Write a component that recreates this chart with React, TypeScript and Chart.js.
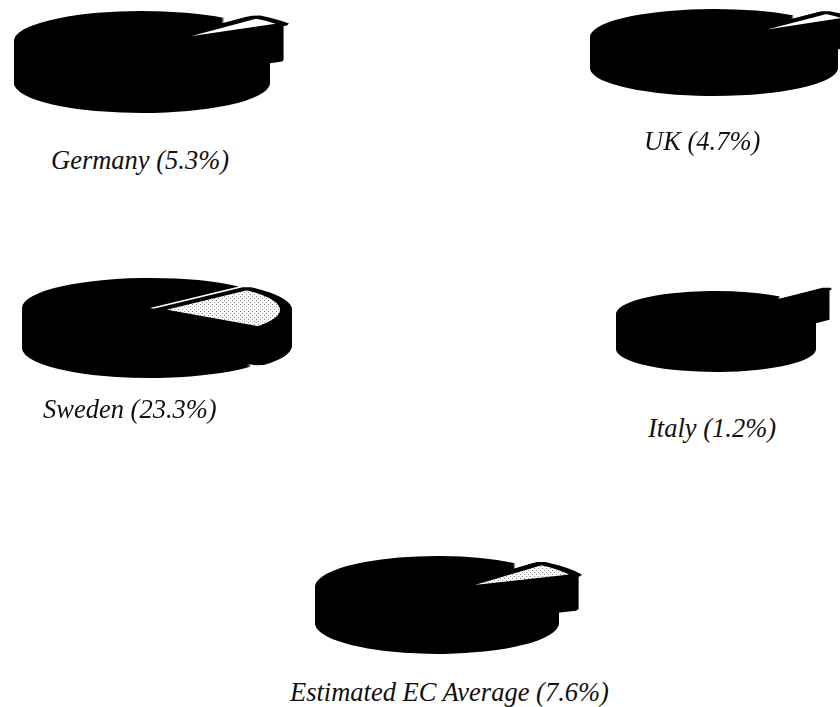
import React, { useEffect, useRef } from "react";
import { Chart, registerables } from "chart.js";

Chart.register(...registerables);

const regions = ["Germany", "UK", "Sweden", "Italy", "Estimated EC Average"];
const sharePercents = [5.3, 4.7, 23.3, 1.2, 7.6];
const captions = [
  "Germany (5.3%)",
  "UK (4.7%)",
  "Sweden (23.3%)",
  "Italy (1.2%)",
  "Estimated EC Average (7.6%)",
];

// Where each squashed pie sits on the page and how it is extruded.
const pieFrames = [
  { cx: 142, cy: 41, rx: 128, ry: 30, depth: 42, rotation: 40, offset: 100, shiftX: 0, shiftY: 5, sliceDepth: 36, wallDx: -5, frontWall: false, stipple: false },
  { cx: 714, cy: 37, rx: 124, ry: 28, depth: 31, rotation: 40, offset: 100, shiftX: 0, shiftY: 3, sliceDepth: 28, wallDx: -3, frontWall: false, stipple: false },
  { cx: 150, cy: 308, rx: 128, ry: 30, depth: 40, rotation: 44, offset: 48, shiftX: -4, shiftY: 2, sliceDepth: 36, wallDx: 0, frontWall: true, stipple: true },
  { cx: 716, cy: 314, rx: 100, ry: 23, depth: 35, rotation: 40, offset: 136, shiftX: 0, shiftY: 3, sliceDepth: 30, wallDx: -2, frontWall: false, stipple: false },
  { cx: 437, cy: 587, rx: 122, ry: 31, depth: 36, rotation: 40, offset: 85, shiftX: 0, shiftY: 5, sliceDepth: 34, wallDx: -3, frontWall: false, stipple: true },
];
const captionFrames = [
  { left: 51, top: 145 },
  { left: 644, top: 126 },
  { left: 43, top: 394 },
  { left: 648, top: 413 },
  { left: 290, top: 677 },
];

const SLICE_INDEX = 0;
const CANVAS_W = 380;
const CANVAS_H = 180;

function stipplePattern(): CanvasPattern | string {
  const cell = document.createElement("canvas");
  cell.width = 4;
  cell.height = 16;
  const g = cell.getContext("2d");
  if (!g) return "#ffffff";
  g.fillStyle = "#ffffff";
  g.fillRect(0, 0, 4, 16);
  g.fillStyle = "#808080";
  g.fillRect(0, 0, 1, 4);
  g.fillRect(2, 8, 1, 4);
  return g.createPattern(cell, "repeat") ?? "#ffffff";
}

type Frame = (typeof pieFrames)[number];

// Draws the arcs flattened into an ellipse, with black layers underneath for the wall.
function extrudedPiePlugin(frame: Frame) {
  const k = frame.ry / frame.rx;
  return {
    id: "extrudedPie",
    beforeDatasetsDraw(chart: any) {
      const ctx: CanvasRenderingContext2D = chart.ctx;
      const arcs: any[] = chart.getDatasetMeta(0).data;
      const slice = arcs[SLICE_INDEX];
      const rest = arcs[1 - SLICE_INDEX];
      const { x, y } = rest;
      const flatten = (dx: number, dy: number) => {
        ctx.translate(x + dx, y + dy);
        ctx.scale(1, k);
        ctx.translate(-x, -y);
      };
      const blackDraw = (arc: any) => {
        const saved = arc.options;
        arc.options = { ...saved, backgroundColor: "#000000", borderColor: "#000000" };
        arc.draw(ctx);
        arc.options = saved;
      };

      for (let dy = frame.depth; dy >= 1; dy--) {
        ctx.save();
        flatten(0, dy);
        if (frame.frontWall) {
          const from = Math.max(rest.startAngle, 0);
          ctx.beginPath();
          ctx.arc(x, y, rest.outerRadius, from, Math.PI);
          ctx.closePath();
          ctx.fillStyle = "#000000";
          ctx.fill();
        } else {
          blackDraw(rest);
        }
        ctx.restore();
      }
      for (let dy = frame.sliceDepth; dy >= 1; dy--) {
        ctx.save();
        flatten(frame.shiftX + frame.wallDx, frame.shiftY + dy);
        blackDraw(slice);
        ctx.restore();
      }

      ctx.save();
      flatten(0, 0);
      rest.draw(ctx);
      ctx.restore();
      ctx.save();
      flatten(frame.shiftX, frame.shiftY);
      slice.draw(ctx);
      ctx.restore();
      return false;
    },
  };
}

function PieFigure({ index }: { index: number }) {
  const ref = useRef<HTMLCanvasElement>(null);
  const frame = pieFrames[index];
  useEffect(() => {
    if (!ref.current) return;
    const sliceFill = frame.stipple ? stipplePattern() : "#ffffff";
    const chart = new Chart(ref.current, {
      type: "pie",
      data: {
        labels: [regions[index], "Rest"],
        datasets: [
          {
            data: [sharePercents[index], 100 - sharePercents[index]],
            backgroundColor: [sliceFill, "#000000"],
            borderColor: ["#000000", "#000000"],
            borderWidth: [12, 0],
            borderAlign: "center",
            offset: [frame.offset, 0],
            hoverOffset: 0,
          },
        ],
      },
      options: {
        animation: false,
        responsive: false,
        events: [],
        rotation: frame.rotation,
        radius: frame.rx,
        layout: { padding: 0 },
        plugins: { legend: { display: false }, tooltip: { enabled: false } },
      },
      plugins: [extrudedPiePlugin(frame)],
    } as any);
    return () => chart.destroy();
  }, []);
  return (
    <canvas
      ref={ref}
      width={CANVAS_W}
      height={CANVAS_H}
      style={{
        position: "absolute",
        left: frame.cx - CANVAS_W / 2,
        top: frame.cy - CANVAS_H / 2,
        width: CANVAS_W,
        height: CANVAS_H,
      }}
    />
  );
}

export default function App() {
  return (
    <div
      style={{
        position: "fixed",
        left: 0,
        top: 0,
        width: 840,
        height: 707,
        overflow: "hidden",
        background: "#ffffff",
      }}
    >
      {regions.map((_, i) => (
        <PieFigure key={regions[i]} index={i} />
      ))}
      {captions.map((text, i) => (
        <div
          key={text}
          style={{
            position: "absolute",
            left: captionFrames[i].left,
            top: captionFrames[i].top,
            font: "italic 26.5px 'Liberation Serif'",
            lineHeight: "30px",
            color: "#111111",
            whiteSpace: "nowrap",
          }}
        >
          {text}
        </div>
      ))}
    </div>
  );
}
